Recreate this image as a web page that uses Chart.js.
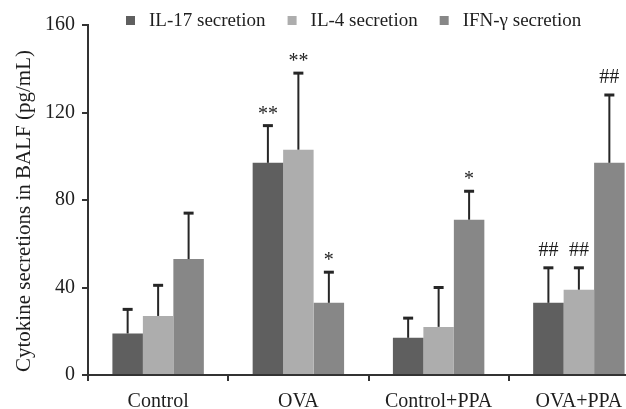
<!DOCTYPE html>
<html>
<head>
  <title>Cytokine secretions in BALF</title>
  <script src="https://cdn.jsdelivr.net/npm/chart.js"></script>
  <style>
    html, body { margin: 0; padding: 0; overflow: hidden; background: #fff; }
  </style>
</head>
<body>
  <canvas id="cytoChart" width="652" height="409"></canvas>

  <script>
    // values (mean and upper error = SD)
    const categories = ['Control', 'OVA', 'Control+PPA', 'OVA+PPA'];
    const seriesNames = ['IL-17 secretion', 'IL-4 secretion', 'IFN-\u03b3 secretion'];
    const il17 = [19, 97, 17, 33];
    const il17Sd = [11, 17, 9, 16];
    const il4 = [27, 103, 22, 39];
    const il4Sd = [14, 35, 18, 10];
    const ifn = [53, 33, 71, 97];
    const ifnSd = [21, 14, 13, 31];
    // significance marks above the error bars
    const il17Marks = ['', '**', '', '##'];
    const il4Marks = ['', '**', '', '##'];
    const ifnMarks = ['', '*', '*', '##'];
    const yTicks = [0, 40, 80, 120, 160];

    const colors = ['#5f5f5f', '#adadad', '#878787'];
    const serif = '"Liberation Serif", "Times New Roman", serif';

    // error bars (upper only) plus the star / hash marks
    const errorBars = {
      id: 'errorBars',
      afterDatasetsDraw(chart) {
        const ctx = chart.ctx;
        const y = chart.scales.y;
        ctx.save();
        chart.data.datasets.forEach((ds, i) => {
          const meta = chart.getDatasetMeta(i);
          meta.data.forEach((bar, j) => {
            const top = y.getPixelForValue(ds.data[j] + ds.sd[j]);
            ctx.strokeStyle = '#262626';
            ctx.lineWidth = 2;
            ctx.beginPath();
            ctx.moveTo(bar.x, bar.y);
            ctx.lineTo(bar.x, top);
            ctx.stroke();
            ctx.lineWidth = 3;
            ctx.beginPath();
            ctx.moveTo(bar.x - 5, top);
            ctx.lineTo(bar.x + 5, top);
            ctx.stroke();

            const mark = ds.marks[j];
            if (mark) {
              ctx.font = '20px ' + serif;
              ctx.fillStyle = '#1e1e1e';
              ctx.textAlign = 'center';
              ctx.textBaseline = 'alphabetic';
              const m = ctx.measureText(mark);
              // keep the glyphs' visual bottom ~12px above the cap
              ctx.fillText(mark, bar.x, top - 12 - m.actualBoundingBoxDescent);
            }
          });
        });
        ctx.restore();
      }
    };

    // legend across the top and the rotated y title
    const extras = {
      id: 'extras',
      afterDraw(chart) {
        const ctx = chart.ctx;
        ctx.save();
        ctx.font = '19px ' + serif;
        ctx.textBaseline = 'middle';
        ctx.textAlign = 'left';
        let x = 126;
        seriesNames.forEach((name, i) => {
          ctx.fillStyle = colors[i];
          ctx.fillRect(x, 16, 9, 9);
          ctx.fillStyle = '#1e1e1e';
          ctx.fillText(name, x + 23, 21);
          x += 23 + ctx.measureText(name).width + 22;
        });

        ctx.translate(24, 211);
        ctx.rotate(-Math.PI / 2);
        ctx.font = '21px ' + serif;
        ctx.textAlign = 'center';
        ctx.fillText('Cytokine secretions in BALF (pg/mL)', 0, 0);
        ctx.restore();
      }
    };

    function createChart() {
      const ctx = document.getElementById('cytoChart').getContext('2d');
      new Chart(ctx, {
        type: 'bar',
        data: {
          labels: categories,
          datasets: [
            { label: seriesNames[0], data: il17, sd: il17Sd, marks: il17Marks, backgroundColor: colors[0] },
            { label: seriesNames[1], data: il4, sd: il4Sd, marks: il4Marks, backgroundColor: colors[1] },
            { label: seriesNames[2], data: ifn, sd: ifnSd, marks: ifnMarks, backgroundColor: colors[2] }
          ]
        },
        options: {
          responsive: false,
          animation: false,
          categoryPercentage: 0.652,
          barPercentage: 1,
          layout: { padding: { left: 0, top: 25, right: 3, bottom: 0 } },
          plugins: {
            legend: { display: false },
            tooltip: { enabled: false }
          },
          scales: {
            x: {
              grid: { drawOnChartArea: false, tickLength: 6, color: '#333', lineWidth: 2 },
              border: { color: '#333', width: 2 },
              ticks: { font: { family: serif, size: 20 }, color: '#1e1e1e', padding: 9 },
              afterFit(scale) { scale.height = 34; }
            },
            y: {
              min: 0,
              max: 160,
              afterBuildTicks(scale) { scale.ticks = yTicks.map(v => ({ value: v })); },
              grid: { drawOnChartArea: false, tickLength: 6, color: '#333', lineWidth: 2 },
              border: { color: '#333', width: 2 },
              ticks: { font: { family: serif, size: 20 }, color: '#1e1e1e', padding: 7 },
              afterFit(scale) { scale.width = 88; }
            }
          }
        },
        plugins: [errorBars, extras]
      });
    }

    window.onload = createChart;
  </script>
</body>
</html>
